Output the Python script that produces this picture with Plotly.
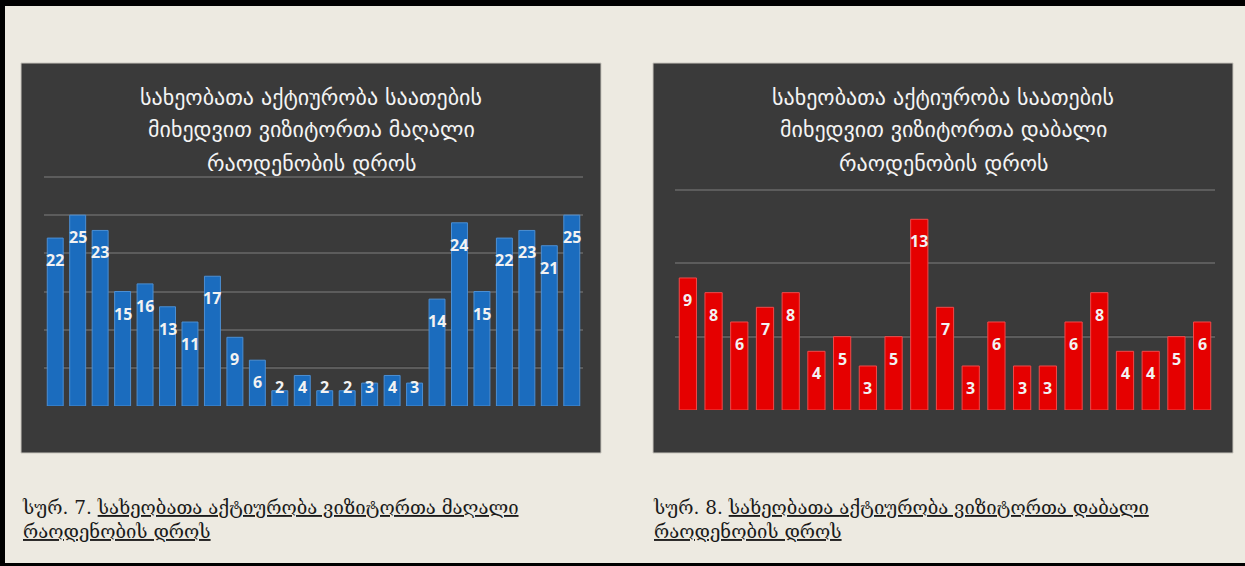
import plotly.graph_objects as go

W, H = 1245, 566

# hourly activity, high visitor numbers (24 hours)
HOURS_HIGH = [str(h) for h in range(1, 25)]
VISITS_HIGH = [22, 25, 23, 15, 16, 13, 11, 17, 9, 6, 2, 4,
               2, 2, 3, 4, 3, 14, 24, 15, 22, 23, 21, 25]

# hourly activity, low visitor numbers (21 bars)
HOURS_LOW = [str(h) for h in range(1, 22)]
VISITS_LOW = [9, 8, 6, 7, 8, 4, 5, 3, 5, 13, 7, 3, 6, 3, 3, 6, 8, 4, 4, 5, 6]

TITLE_HIGH = ["სახეობათა აქტიურობა საათების",
              "მიხედვით ვიზიტორთა მაღალი",
              "რაოდენობის დროს"]
TITLE_LOW = ["სახეობათა აქტიურობა საათების",
             "მიხედვით ვიზიტორთა დაბალი",
             "რაოდენობის დროს"]

CAPTION_HIGH = ["სურ. 7.", "სახეობათა აქტიურობა ვიზიტორთა მაღალი", "რაოდენობის დროს"]
CAPTION_LOW = ["სურ. 8.", "სახეობათა აქტიურობა ვიზიტორთა დაბალი", "რაოდენობის დროს"]

PAGE_BG = "#EDEAE1"
PANEL_BG = "#3A3A3A"
GRID = "#5C5C5C"
GEO_FONT = "DejaVu Sans, Noto Sans, sans-serif"
CAPTION_FONT = "DejaVu Serif, DejaVu Sans, serif"
LABEL_FONT = "Open Sans, Liberation Sans, sans-serif"


def px(x):
    return x / W


def py(y):
    return 1 - y / H


fig = go.Figure()

fig.add_trace(go.Bar(
    x=HOURS_HIGH, y=VISITS_HIGH, xaxis="x", yaxis="y", width=0.71,
    marker=dict(color="#1B6CBE", line=dict(color="#4C8FD3", width=1)),
    hoverinfo="y", showlegend=False,
))
fig.add_trace(go.Bar(
    x=HOURS_LOW, y=VISITS_LOW, xaxis="x2", yaxis="y2", width=0.67,
    marker=dict(color="#E50000", line=dict(color="#F04A4A", width=1)),
    hoverinfo="y", showlegend=False,
))

axis_common = dict(showticklabels=False, ticks="", zeroline=False, fixedrange=True)

# a little headroom above the top gridline so plotly still draws it
fig.update_layout(
    width=W, height=H,
    paper_bgcolor=PAGE_BG,
    plot_bgcolor="rgba(0,0,0,0)",
    margin=dict(l=0, r=0, t=0, b=0),
    showlegend=False,
    xaxis=dict(domain=[px(44), px(583)], showgrid=False, anchor="y", **axis_common),
    yaxis=dict(domain=[py(406), py(173.2)], range=[0, 30.5], dtick=5,
               showgrid=True, gridcolor=GRID, gridwidth=2, anchor="x", **axis_common),
    xaxis2=dict(domain=[px(675), px(1215)], showgrid=False, anchor="y2", **axis_common),
    yaxis2=dict(domain=[py(410), py(184.1)], range=[0, 15.4], dtick=5,
                showgrid=True, gridcolor=GRID, gridwidth=2, anchor="x2", **axis_common),
)

# page frame and the two dark chart panels
shapes = [
    dict(type="rect", xref="paper", yref="paper", x0=0, x1=1, y0=py(0), y1=py(6),
         fillcolor="#000000", line_width=0, layer="below"),
    dict(type="rect", xref="paper", yref="paper", x0=0, x1=px(5), y0=0, y1=1,
         fillcolor="#000000", line_width=0, layer="below"),
    dict(type="rect", xref="paper", yref="paper", x0=0, x1=1, y0=0, y1=py(563),
         fillcolor="#000000", line_width=0, layer="below"),
    dict(type="rect", xref="paper", yref="paper", x0=px(21), x1=px(601), y0=py(453), y1=py(63),
         fillcolor=PANEL_BG, line=dict(color="#C9C6BE", width=1), layer="below"),
    dict(type="rect", xref="paper", yref="paper", x0=px(653), x1=px(1233), y0=py(453), y1=py(63),
         fillcolor=PANEL_BG, line=dict(color="#C9C6BE", width=1), layer="below"),
]
# the darker gridline at 5 in both charts
for xr, yr in (("x domain", "y"), ("x2 domain", "y2")):
    shapes.append(dict(type="line", xref=xr, yref=yr, x0=0, x1=1, y0=5, y1=5,
                       line=dict(color="#262626", width=2), layer="below"))
fig.update_layout(shapes=shapes)

annotations = []


def add_titles(lines, cx):
    for i, line in enumerate(lines):
        annotations.append(dict(
            text=line, xref="paper", yref="paper", x=px(cx), y=py(97 + 33 * i),
            xanchor="center", yanchor="middle", showarrow=False,
            font=dict(family=GEO_FONT, size=22, color="#F4F4F4"),
        ))


def add_labels(vals, xref, yref, floor):
    # value labels sit inside the bar end; short bars keep them near the base
    # (x given as category index so numeric-looking names are not misread)
    for i, v in enumerate(vals):
        annotations.append(dict(
            text=f"<b>{v}</b>", xref=xref, yref=yref, x=i, y=max(v, floor),
            xanchor="center", yanchor="middle", yshift=-22, showarrow=False,
            font=dict(family=LABEL_FONT, size=16, color="#F2F2F2"),
        ))


def add_caption(parts, x0):
    annotations.append(dict(
        text=f"{parts[0]} <u>{parts[1]}</u><br><u>{parts[2]}</u>",
        xref="paper", yref="paper", x=px(x0), y=py(495),
        xanchor="left", yanchor="top", align="left", showarrow=False,
        font=dict(family=CAPTION_FONT, size=18.5, color="#1A1A1A"),
    ))


add_titles(TITLE_HIGH, 311)
add_titles(TITLE_LOW, 943)
add_labels(VISITS_HIGH, "x", "y", 5.4)
add_labels(VISITS_LOW, "x2", "y2", 2.8)
add_caption(CAPTION_HIGH, 20)
add_caption(CAPTION_LOW, 651)

fig.update_layout(annotations=annotations)

fig.write_html("out.html", config={"displayModeBar": False},
               post_script="document.body.style.margin='0';")
